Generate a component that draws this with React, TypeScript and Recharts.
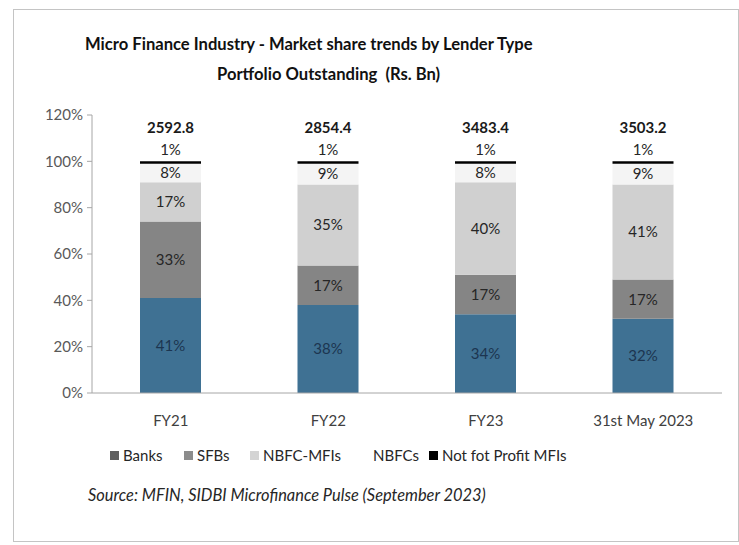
import { BarChart, Bar, XAxis, YAxis, LabelList } from 'recharts';

const categories = ['FY21', 'FY22', 'FY23', '31st May 2023'];
const banks = [41, 38, 34, 32];
const sfbs = [33, 17, 17, 17];
const nbfcMfis = [17, 35, 40, 41];
const nbfcs = [8, 9, 8, 9];
const notForProfit = [1, 1, 1, 1];
const totals = [2592.8, 2854.4, 3483.4, 3503.2];
const yTicks = [0, 20, 40, 60, 80, 100, 120];

const legendItems = [
  { name: 'Banks', color: '#5f5f5f', left: 110 },
  { name: 'SFBs', color: '#8c8c8c', left: 184 },
  { name: 'NBFC-MFIs', color: '#d4d4d4', left: 250 },
  { name: 'NBFCs', color: '#ffffff', left: 360 },
  { name: 'Not fot Profit MFIs', color: '#000000', left: 429 },
];

const data = categories.map((name, i) => ({
  name,
  banks: banks[i],
  sfbs: sfbs[i],
  nbfcMfis: nbfcMfis[i],
  nbfcs: nbfcs[i],
  notForProfit: notForProfit[i],
  total: totals[i],
}));

const font = 'Lato, "Open Sans", sans-serif';
const pct = (v: any) => `${v}%`;

const TotalLabel = (props: any) => {
  const { x, y, width, index } = props;
  return (
    <text
      x={x + width / 2}
      y={y - 34}
      textAnchor="middle"
      dominantBaseline="central"
      fontSize={15}
      fontWeight={700}
      fill="#1a1a1a"
      fontFamily={font}
    >
      {totals[index].toFixed(1)}
    </text>
  );
};

export default function App() {
  const labelStyle = { fontSize: 15, fill: '#262626', fontFamily: font };
  return (
    <div style={{ position: 'absolute', left: 0, top: 0, width: 739, height: 545, background: '#fff', fontFamily: font }}>
      <div style={{ position: 'absolute', left: 13, top: 9, width: 726, height: 533, border: '1px solid #c4c4c4', boxSizing: 'border-box' }} />
      <div style={{ position: 'absolute', left: 85, top: 34, fontSize: 16.6, fontWeight: 700, color: '#111', whiteSpace: 'nowrap' }}>
        Micro Finance Industry - Market share trends by Lender Type
      </div>
      <div style={{ position: 'absolute', left: 217, top: 64, fontSize: 16.6, fontWeight: 700, color: '#111', whiteSpace: 'nowrap' }}>
        Portfolio Outstanding&nbsp; (Rs. Bn)
      </div>
      <div style={{ position: 'absolute', left: 0, top: 0 }}>
        <BarChart
          width={739}
          height={545}
          data={data}
          margin={{ top: 115, right: 17, bottom: 122, left: 32 }}
          barSize={61}
        >
          <XAxis
            dataKey="name"
            height={30}
            stroke="#a6a6a6"
            tickLine={false}
            tickMargin={16}
            tick={{ fill: '#404040', fontSize: 15, fontFamily: font }}
          />
          <YAxis
            width={60}
            domain={[0, 120]}
            ticks={yTicks}
            tickFormatter={pct}
            stroke="#a6a6a6"
            tickSize={5}
            tickMargin={4}
            tick={{ fill: '#595959', fontSize: 15, fontFamily: font }}
          />
          <Bar dataKey="banks" stackId="a" fill="#3f7193" isAnimationActive={false}>
            <LabelList dataKey="banks" position="center" formatter={pct} style={{ ...labelStyle, fill: '#1c3550' }} />
          </Bar>
          <Bar dataKey="sfbs" stackId="a" fill="#858585" isAnimationActive={false}>
            <LabelList dataKey="sfbs" position="center" formatter={pct} style={labelStyle} />
          </Bar>
          <Bar dataKey="nbfcMfis" stackId="a" fill="#d0d0d0" isAnimationActive={false}>
            <LabelList dataKey="nbfcMfis" position="center" formatter={pct} style={labelStyle} />
          </Bar>
          <Bar dataKey="nbfcs" stackId="a" fill="#f4f4f4" isAnimationActive={false}>
            <LabelList dataKey="nbfcs" position="center" formatter={pct} style={labelStyle} />
          </Bar>
          <Bar dataKey="notForProfit" stackId="a" fill="#000000" isAnimationActive={false}>
            <LabelList dataKey="notForProfit" position="top" offset={6} formatter={pct} style={labelStyle} />
            <LabelList dataKey="total" content={TotalLabel} />
          </Bar>
        </BarChart>
      </div>
      {legendItems.map((item) => (
        <div
          key={item.name}
          style={{ position: 'absolute', left: item.left, top: 446, display: 'flex', alignItems: 'center', fontSize: 15, color: '#262626', whiteSpace: 'nowrap' }}
        >
          <span style={{ display: 'inline-block', width: 9, height: 9, background: item.color, marginRight: 4 }} />
          <span>{item.name}</span>
        </div>
      ))}
      <div style={{ position: 'absolute', left: 88, top: 485, fontSize: 16.4, fontStyle: 'italic', color: '#262626', whiteSpace: 'nowrap' }}>
        Source: MFIN, SIDBI Microfinance Pulse (September 2023)
      </div>
    </div>
  );
}
